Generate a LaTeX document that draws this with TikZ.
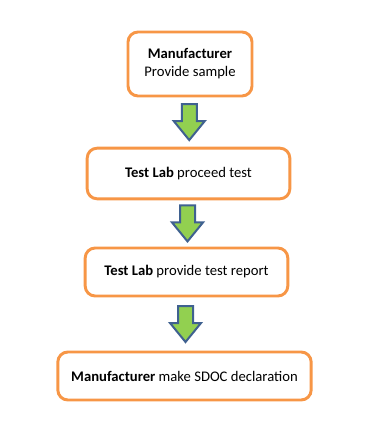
\documentclass[tikz,border=0pt]{standalone}
\usepackage{fontspec}
\setmainfont{Carlito}
\usepackage{xcolor}
\usetikzlibrary{calc}
\definecolor{BoxOrange}{HTML}{F79646}
\definecolor{ArrowGreen}{HTML}{92D050}
\definecolor{ArrowBlue}{HTML}{3F6190}

\tikzset{
    stepbox/.style={draw=BoxOrange, line width=2.2pt, rounded corners=7.5pt, fill=white,
        align=center, font=\fontsize{11}{13.5}\selectfont},
    downarr/.pic={
        \draw[draw=ArrowBlue, fill=ArrowGreen, line width=1.5pt, line join=miter]
            (-7.5,-18) -- (7.5,-18) -- (7.5,-1) -- (15.5,-1) -- (0,18)
            -- (-15.5,-1) -- (-7.5,-1) -- cycle;
    }
}

\begin{document}
\begin{tikzpicture}[x=0.75pt, y=-0.75pt]
    \useasboundingbox (0,0) rectangle (380,434);

    % Boxes
    \node[stepbox, minimum width=93pt, minimum height=48pt] (mfr) at (190,64)
        {\textbf{Manufacturer}\\Provide sample};
    \node[stepbox, minimum width=152pt, minimum height=38pt] (lab1) at (188.5,173.5)
        {\textbf{Test Lab} proceed test};
    \node[stepbox, minimum width=152pt, minimum height=36pt] (lab2) at (186.5,272)
        {\textbf{Test Lab} provide test report};
    \node[stepbox, minimum width=190pt, minimum height=36pt] (decl) at (184.5,376)
        {\textbf{Manufacturer} make SDOC declaration};

    % Block arrows between boxes
    \pic at ($(mfr.south)!0.5!(lab1.north)$) {downarr};
    \pic at ($(lab1.south)!0.5!(lab2.north)$) {downarr};
    \pic at ($(lab2.south)!0.5!(decl.north)$) {downarr};
\end{tikzpicture}
\end{document}
